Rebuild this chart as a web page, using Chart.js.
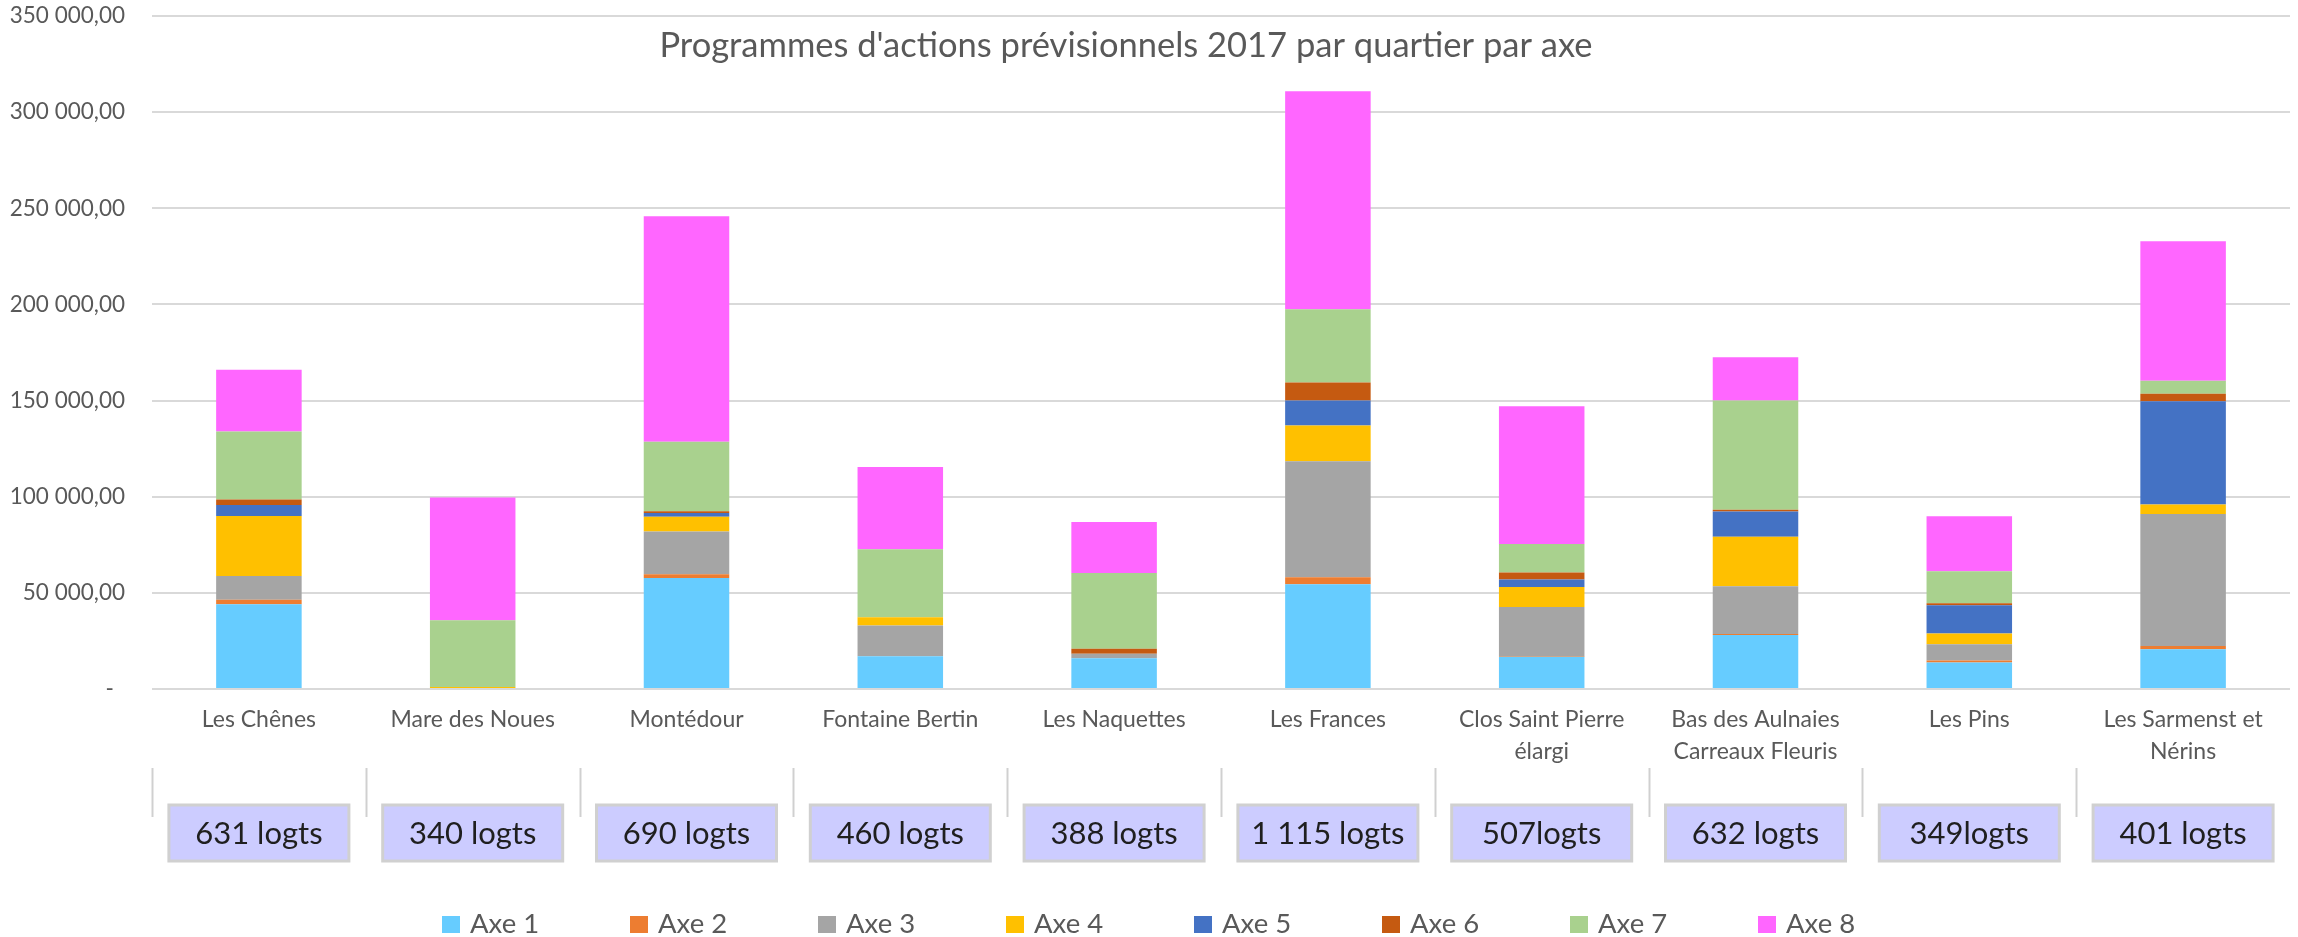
<!DOCTYPE html>
<html lang="fr">
<head>
<meta charset="utf-8">
<title>Programmes d'actions prévisionnels 2017 par quartier par axe</title>
<script src="https://cdn.jsdelivr.net/npm/chart.js@4.4.1/dist/chart.umd.min.js"></script>
<style>
	html, body { margin: 0; padding: 0; background: #ffffff; }
	#chart-wrapper { position: relative; width: 2298px; height: 937px; }
</style>
</head>
<body>
<div id="chart-wrapper"><canvas id="chart-axes"></canvas></div>
<script>
const TITLE = "Programmes d'actions prévisionnels 2017 par quartier par axe";

const QUARTIERS = [
	"Les Chênes",
	"Mare des Noues",
	"Montédour",
	"Fontaine Bertin",
	"Les Naquettes",
	"Les Frances",
	["Clos Saint Pierre", "élargi"],
	["Bas des Aulnaies", "Carreaux Fleuris"],
	"Les Pins",
	["Les Sarmenst et", "Nérins"],
];
const LOGEMENTS = ["631 logts", "340 logts", "690 logts", "460 logts", "388 logts", "1 115 logts", "507logts", "632 logts", "349logts", "401 logts"];

const AXES = ["Axe 1", "Axe 2", "Axe 3", "Axe 4", "Axe 5", "Axe 6", "Axe 7", "Axe 8"];
const AXE_1 = [44100, 0, 57700, 17000, 16000, 54500, 16800, 28100, 13800, 20700];
const AXE_2 = [2300, 0, 2000, 0, 0, 3600, 400, 500, 1000, 1700];
const AXE_3 = [12400, 0, 22200, 16000, 2300, 60300, 25500, 24900, 8500, 68600];
const AXE_4 = [31200, 1000, 7700, 4300, 0, 18600, 10300, 25700, 5500, 5000];
const AXE_5 = [5700, 0, 1900, 0, 0, 13100, 3900, 13100, 14800, 53600];
const AXE_6 = [2900, 0, 900, 0, 2600, 9300, 3700, 900, 1000, 4000];
const AXE_7 = [35300, 34800, 36200, 35400, 39400, 38100, 14800, 56900, 16700, 6700];
const AXE_8 = [32100, 63800, 117300, 42800, 26600, 113400, 71600, 22400, 28600, 72500];

const Y_MAX = 350000;
const Y_STEP = 50000;

const COLORS = ["#66CCFF", "#ED7D31", "#A5A5A5", "#FFC000", "#4472C4", "#C55A11", "#A9D18E", "#FF66FF"];
const MUTED = "#595959";
const FONT = "Lato";

const WRAPPER = document.getElementById("chart-axes");

// "350 000,00" style, zero shown as a dash like Excel's accounting format
const formatEuro = (value) => {
	if (value === 0) return "-\u2002";
	const [int, dec] = value.toFixed(2).split(".");
	return int.replace(/\B(?=(\d{3})+(?!\d))/g, " ") + "," + dec;
};

// Title, logement boxes and legend drawn straight on the canvas
const extras = {
	id: "extras",
	afterDraw(chart) {
		const { ctx, chartArea, scales } = chart;
		const x = scales.x;
		const half = (x.getPixelForValue(1) - x.getPixelForValue(0)) / 2;

		ctx.save();
		ctx.fillStyle = MUTED;
		ctx.font = `34.5px ${FONT}`;
		ctx.textAlign = "center";
		ctx.textBaseline = "alphabetic";
		ctx.fillText(TITLE, chart.width / 2 - 23, 57);

		LOGEMENTS.forEach((label, i) => {
			const cx = x.getPixelForValue(i);
			const sep = Math.round(cx - half) + 0.5;
			ctx.strokeStyle = "#d0d0d0";
			ctx.lineWidth = 2;
			ctx.beginPath();
			ctx.moveTo(sep, chartArea.bottom + 79);
			ctx.lineTo(sep, chartArea.bottom + 128);
			ctx.stroke();

			const top = chartArea.bottom + 116;
			ctx.fillStyle = "#ccccff";
			ctx.fillRect(cx - 90, top, 180, 56);
			ctx.lineWidth = 3;
			ctx.strokeStyle = "#d0d0d0";
			ctx.strokeRect(cx - 90, top, 180, 56);
			ctx.fillStyle = "#1f1f1f";
			ctx.font = `31px ${FONT}`;
			ctx.textAlign = "center";
			ctx.fillText(label, cx, top + 39);
		});

		const stride = 188;
		const start = chart.width / 2 - 5 - (stride * (AXES.length - 1) + 88) / 2;
		ctx.font = `27.5px ${FONT}`;
		ctx.textAlign = "left";
		chart.data.datasets.forEach((ds, i) => {
			const bx = start + i * stride;
			ctx.fillStyle = ds.backgroundColor;
			ctx.fillRect(bx, chart.height - 21, 18, 17);
			ctx.fillStyle = MUTED;
			ctx.fillText(ds.label, bx + 28, chart.height - 4);
		});
		ctx.restore();
	},
};

const SERIES = [AXE_1, AXE_2, AXE_3, AXE_4, AXE_5, AXE_6, AXE_7, AXE_8];

const DATA = {
	labels: QUARTIERS,
	datasets: SERIES.map((values, i) => ({
		label: AXES[i],
		data: values,
		backgroundColor: COLORS[i],
		borderWidth: 0,
		barPercentage: 0.4,
		categoryPercentage: 1,
	})),
};

// Chart config
const CONFIG = {
	type: "bar",
	data: DATA,
	plugins: [extras],
	options: {
		responsive: false,
		animation: false,
		layout: {
			padding: { top: 16, right: 8, bottom: 0, left: 0 },
		},
		scales: {
			x: {
				stacked: true,
				grid: { display: false, drawTicks: false },
				border: { display: false },
				ticks: {
					color: MUTED,
					padding: 14,
					maxRotation: 0,
					autoSkip: false,
					font: { family: FONT, size: 23, lineHeight: 1.4 },
				},
				afterFit(scale) {
					scale.height = 248;
				},
			},
			y: {
				stacked: true,
				min: 0,
				max: Y_MAX,
				grid: { color: "#d9d9d9", lineWidth: 2, drawTicks: false },
				border: { display: false },
				ticks: {
					stepSize: Y_STEP,
					color: MUTED,
					padding: 27,
					font: { family: FONT, size: 22.5 },
					callback: (value) => formatEuro(value),
				},
				afterFit(scale) {
					// tick padding should not push the plot down
					scale.width = 152;
					scale.paddingTop = 0;
					scale.paddingBottom = 0;
				},
			},
		},
		plugins: {
			legend: { display: false },
			title: { display: false },
			tooltip: { enabled: false },
		},
	},
};

// Init chart
WRAPPER.width = 2298;
WRAPPER.height = 937;
if (WRAPPER) {
	new Chart(WRAPPER, CONFIG);
}
</script>
</body>
</html>
